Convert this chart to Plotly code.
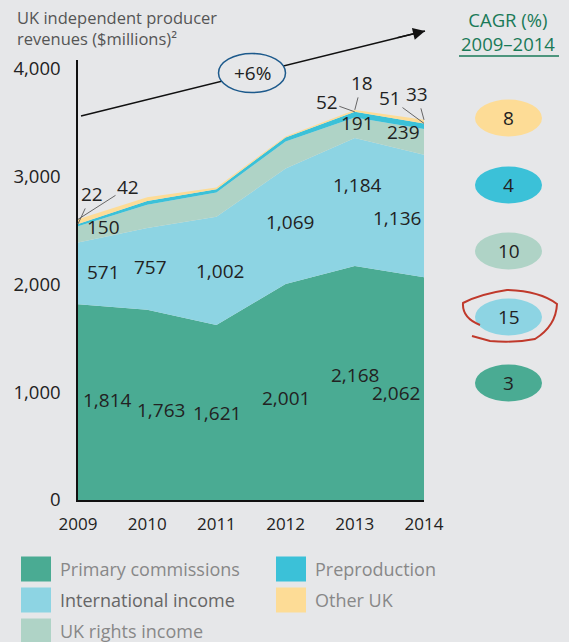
import plotly.graph_objects as go

years = [2009, 2010, 2011, 2012, 2013, 2014]

primary_commissions = [1814, 1763, 1621, 2001, 2168, 2062]
international_income = [571, 757, 1002, 1069, 1184, 1136]
uk_rights_income = [150, 215, 225, 250, 191, 239]
preproduction = [22, 33, 31, 37, 52, 51]
other_uk = [42, 37, 15, 10, 18, 33]

series_names = ["Primary commissions", "International income", "UK rights income",
                "Preproduction", "Other UK"]
series_colors = ["#4aab93", "#8dd4e3", "#afd3c6", "#3bc1d8", "#fddc96"]
cagr = [3, 15, 10, 4, 8]
total_cagr = "+6%"

y_ticks = [0, 1000, 2000, 3000, 4000]

BG = "#e6e7e9"
FONT = "Open Sans"
GREEN = "#1a7a58"


# pixel -> paper helpers (plot area 78..424 x, 60..500 y)
def px(x):
    return (x - 78) / 346


def py(y):
    return (500 - y) / 440


def note(x, y, text, size=19, color="#222", xanchor="center"):
    return dict(x=px(x), y=py(y), xref="paper", yref="paper", text=text,
                showarrow=False, xanchor=xanchor, yanchor="middle",
                font=dict(size=size, color=color, family=FONT))


series = [primary_commissions, international_income, uk_rights_income,
          preproduction, other_uk]

fig = go.Figure()
for name, vals, col in zip(series_names, series, series_colors):
    fig.add_trace(go.Scatter(
        x=years, y=vals, name=name, mode="lines", stackgroup="one",
        line=dict(width=0, color=col), fillcolor=col, hoverinfo="skip",
    ))

# cumulative bases for label placement
bases = []
run = [0] * len(years)
for vals in series:
    bases.append(list(run))
    run = [a + b for a, b in zip(run, vals)]

annotations = []
shapes = []

# in-area labels: (series index, which years shown, x shifts, y shifts)
label_specs = [
    (0, [1, 1, 1, 1, 1, 1], [29, 14, 1, 0, 0, -28], [2, -5, -1, -6, 8, -4]),
    (1, [1, 1, 1, 1, 1, 1], [25, 3, 4, 4, 3, -27], [1, 2, 0, 4, 17, -2]),
    (2, [1, 0, 0, 0, 1, 1], [25, 0, 0, 0, 3, -21], [7, 0, 0, 0, 5, 10]),
]
for si, show, xs, ys in label_specs:
    for i, yr in enumerate(years):
        if not show[i]:
            continue
        annotations.append(dict(
            x=yr, y=bases[si][i] + series[si][i] / 2, xref="x", yref="y",
            text=f"{series[si][i]:,}", showarrow=False, xshift=xs[i], yshift=ys[i],
            font=dict(size=19, color="#222", family=FONT)))

# small labels with leader lines: (series index, year index, ax, ay)
leader_specs = [(3, 0, 14, -30), (4, 0, 50, -32), (3, 4, -28, -10),
                (4, 4, 7, -27), (3, 5, -34, -25), (4, 5, -7, -26)]
for si, i, ax, ay in leader_specs:
    annotations.append(dict(
        x=years[i], y=bases[si][i] + series[si][i], xref="x", yref="y",
        text=f"{series[si][i]:,}", showarrow=True, arrowhead=0, arrowwidth=1,
        arrowcolor="#666", ax=ax, ay=ay, standoff=0,
        font=dict(size=19, color="#222", family=FONT)))

# growth arrow
shapes.append(dict(type="line", xref="paper", yref="paper",
                   x0=px(81), y0=py(116), x1=px(425), y1=py(31),
                   line=dict(color="#111", width=1.5)))
annotations.append(dict(x=px(425), y=py(31), xref="paper", yref="paper",
                        showarrow=True, arrowhead=2, arrowsize=1.6, arrowwidth=1.5,
                        arrowcolor="#111", ax=-29, ay=7, text=""))
shapes.append(dict(type="circle", xref="paper", yref="paper",
                   x0=px(218.5), x1=px(285.5), y0=py(92.5), y1=py(53.5),
                   line=dict(color="#1d5a8c", width=1.5), fillcolor=BG))
annotations.append(note(252, 73, total_cagr, size=19))

# chart title
annotations.append(dict(x=px(15), y=py(28), xref="paper", yref="paper",
                        xanchor="left", yanchor="middle", align="left",
                        text="UK independent producer<br>revenues ($millions)²",
                        showarrow=False,
                        font=dict(size=16.5, color="#555", family=FONT)))

# CAGR column
annotations.append(note(508, 32, "CAGR (%)<br>2009–2014", size=18.5, color=GREEN))
shapes.append(dict(type="line", xref="paper", yref="paper",
                   x0=px(459), x1=px(559), y0=py(56), y1=py(56),
                   line=dict(color=GREEN, width=1.5)))
oval_y = [383, 317, 251, 185, 118]
for val, col, cy in zip(cagr, series_colors, oval_y):
    shapes.append(dict(type="circle", xref="paper", yref="paper",
                       x0=px(475), x1=px(542), y0=py(cy + 18.5), y1=py(cy - 18.5),
                       line=dict(width=0), fillcolor=col))
    annotations.append(note(508.5, cy, str(val), size=19))

# hand-drawn red loop around the highest growth
pts = [(480, 325), (462, 318), (463, 303), (480, 294), (507, 290), (540, 291),
       (557, 304), (556, 326), (535, 339), (515, 343), (490, 341), (472, 336)]
path = f"M{px(pts[0][0])},{py(pts[0][1])}"
for j in range(1, len(pts) - 1, 2):
    (x1, y1), (x2, y2) = pts[j], pts[j + 1]
    path += f" Q{px(x1)},{py(y1)} {px(x2)},{py(y2)}"
path += f" L{px(pts[-1][0])},{py(pts[-1][1])}"
shapes.append(dict(type="path", xref="paper", yref="paper", path=path,
                   line=dict(color="#c0392b", width=2)))

# legend (drawn manually, two columns)
legend_pos = [(21, 569), (21, 600), (21, 631), (276, 569), (276, 600)]
legend_text_col = ["#888", "#666", "#888", "#888", "#888"]
for name, col, (lx, ly), tc in zip(series_names, series_colors, legend_pos, legend_text_col):
    shapes.append(dict(type="rect", xref="paper", yref="paper",
                       x0=px(lx), x1=px(lx + 30), y0=py(ly + 12.5), y1=py(ly - 12.5),
                       line=dict(width=0), fillcolor=col))
    annotations.append(note(lx + 37, ly, name, size=18, color=tc, xanchor="left"))

fig.update_layout(
    width=569, height=642, autosize=False,
    margin=dict(l=78, r=145, t=60, b=142),
    paper_bgcolor=BG, plot_bgcolor=BG,
    showlegend=False,
    font=dict(family=FONT, color="#222"),
    annotations=annotations, shapes=shapes,
    xaxis=dict(range=[2009, 2014], tickvals=years, showgrid=False, zeroline=False,
               showline=True, linecolor="#111", linewidth=1.5,
               ticks="", ticklabelstandoff=8, tickfont=dict(size=17, color="#222")),
    yaxis=dict(range=[0, 4075], tickvals=y_ticks, tickformat=",", showgrid=False,
               zeroline=False, showline=True, linecolor="#111", linewidth=1.5,
               ticks="", ticklabelstandoff=12, tickfont=dict(size=18.5, color="#222")),
)

fig.write_html("out.html", config={"displayModeBar": False},
               post_script="document.body.style.margin='0';")
